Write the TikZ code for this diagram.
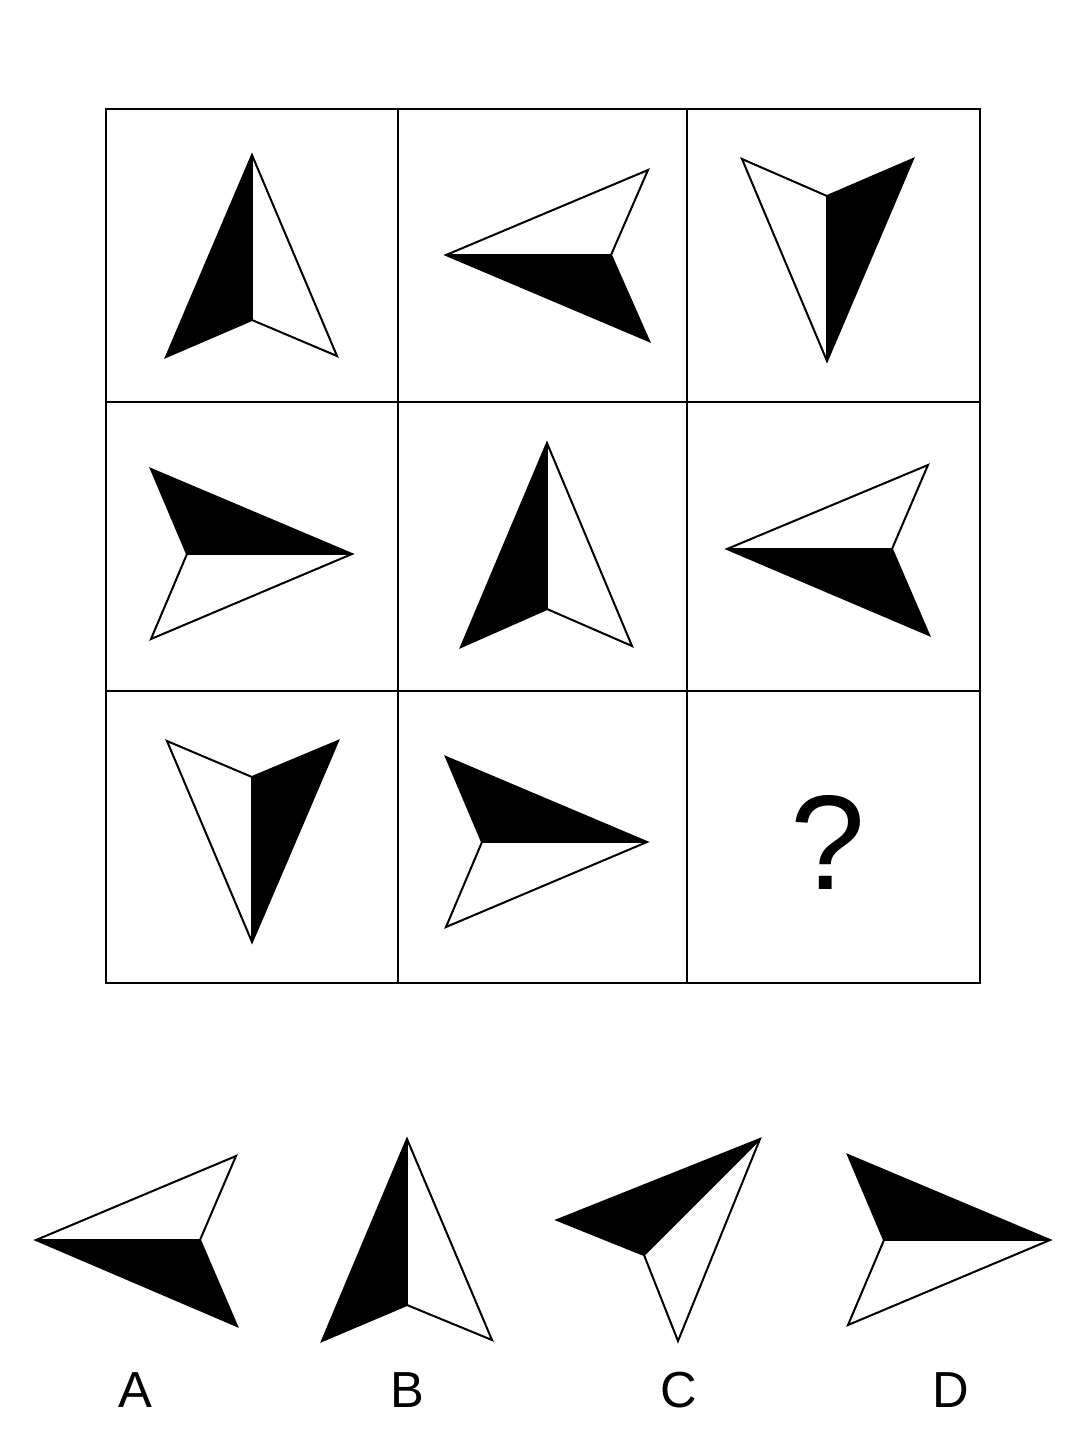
\documentclass[tikz,border=0pt]{standalone}
\usepackage{fontspec}
\setmainfont{Liberation Sans}
\tikzset{
  gridline/.style={line width=1.5pt, line cap=round},
  shapeline/.style={line width=1.5pt, line join=miter},
  lbl/.style={font=\fontsize{38pt}{40pt}\selectfont, inner sep=0pt, anchor=center},
}
\newcommand{\halfarrow}[4]{%
  \fill[black] #1 -- #2 -- #3 -- cycle;
  \draw[shapeline] #1 -- #2 -- #3 -- #4 -- cycle;
  \draw[shapeline] #1 -- #3;}
\begin{document}
\begin{tikzpicture}[x=0.75pt, y=-0.75pt]
\useasboundingbox[fill=white] (0,0) rectangle (1086,1436);
% grid
\draw[gridline] (106,109) rectangle (980,983);
\draw[gridline] (398,109) -- (398,983);
\draw[gridline] (687,109) -- (687,983);
\draw[gridline] (106,402) -- (980,402);
\draw[gridline] (106,691) -- (980,691);
% row 1
\halfarrow{(252,155)}{(166,357)}{(252,320)}{(337,356)}
\halfarrow{(446,255)}{(649,341)}{(611,255)}{(648,170)}
\halfarrow{(827,361)}{(913,159)}{(827,196)}{(742,159)}
% row 2
\halfarrow{(352,554)}{(151,469)}{(187,554)}{(151,639)}
\halfarrow{(547,443)}{(461,647)}{(547,609)}{(632,646)}
\halfarrow{(727,549)}{(929,635)}{(892,549)}{(928,465)}
% row 3
\halfarrow{(252,942)}{(338,741)}{(252,777)}{(167,741)}
\halfarrow{(647,842)}{(446,757)}{(482,842)}{(446,927)}
\node[inner sep=0pt, font=\fontsize{101pt}{110pt}\selectfont] (q) at (828,842) {?};
% options
\halfarrow{(36,1240)}{(237,1326)}{(200,1240)}{(236,1156)}
\halfarrow{(407,1139)}{(322,1341)}{(407,1305)}{(492,1340)}
\halfarrow{(760,1139)}{(557,1220)}{(644,1255)}{(678,1341)}
\halfarrow{(1050,1240)}{(848,1155)}{(884,1240)}{(848,1325)}
\node[lbl] (la) at (135,1390) {A};
\node[lbl] (lb) at (407,1390) {B};
\node[lbl] (lc) at (679,1390) {C};
\node[lbl] (ld) at (951,1390) {D};
\end{tikzpicture}
\end{document}
